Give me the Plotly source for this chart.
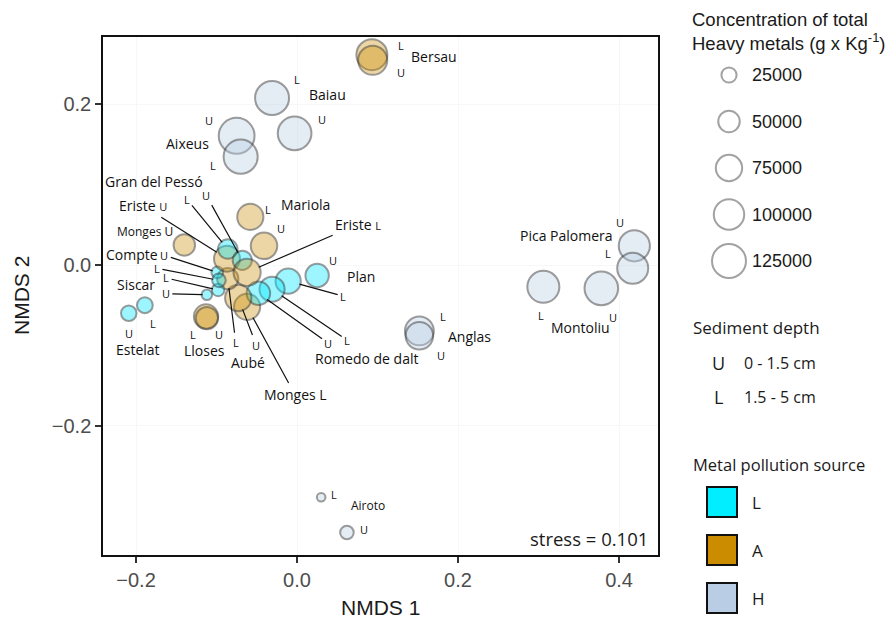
import math
import plotly.graph_objects as go

# NMDS scores of lake sediment samples
site = ["Bersau", "Bersau", "Baiau", "Baiau", "Aixeus", "Aixeus",
        "Mariola", "Mariola", "Monges", "Monges", "Estelat", "Estelat",
        "Lloses", "Lloses", "Plan", "Plan", "Romedo de dalt", "Romedo de dalt",
        "Aubé", "Aubé", "Siscar", "Siscar", "Compte", "Compte",
        "Eriste", "Gran del Pessó", "Gran del Pessó", "Eriste",
        "Anglas", "Anglas", "Pica Palomera", "Pica Palomera",
        "Montoliu", "Montoliu", "Airoto", "Airoto"]
depth = ["L", "U", "L", "U", "U", "L",
         "L", "U", "U", "L", "U", "L",
         "L", "U", "U", "L", "L", "U",
         "U", "L", "U", "L", "U", "L",
         "U", "L", "U", "L",
         "L", "U", "U", "L",
         "L", "U", "L", "U"]
source = ["A", "A", "H", "H", "H", "H",
          "A", "A", "A", "A", "L", "L",
          "A", "A", "L", "L", "L", "L",
          "A", "A", "L", "L", "L", "L",
          "A", "L", "L", "A",
          "H", "H", "H", "H",
          "H", "H", "H", "H"]
nmds1 = [0.093, 0.094, -0.031, -0.003, -0.075, -0.070,
         -0.058, -0.041, -0.140, -0.062, -0.209, -0.189,
         -0.113, -0.112, 0.025, -0.011, -0.031, -0.048,
         -0.073, -0.086, -0.112, -0.098, -0.099, -0.097,
         -0.087, -0.086, -0.068, -0.062,
         0.152, 0.152, 0.419, 0.417,
         0.306, 0.378, 0.030, 0.062]
nmds2 = [0.262, 0.255, 0.208, 0.164, 0.161, 0.135,
         0.060, 0.024, 0.025, -0.052, -0.060, -0.050,
         -0.064, -0.066, -0.013, -0.020, -0.030, -0.035,
         -0.041, -0.017, -0.037, -0.031, -0.009, -0.019,
         0.008, 0.020, 0.006, -0.009,
         -0.082, -0.088, 0.024, -0.004,
         -0.027, -0.029, -0.289, -0.333]
# total heavy metal concentration (g x Kg-1)
conc = [104000, 92000, 125000, 123000, 139000, 126000,
        74000, 76000, 50000, 74000, 26000, 27000,
        64000, 54000, 59000, 69000, 68000, 60000,
        75000, 49000, 12000, 17000, 15000, 20000,
        73000, 41000, 40000, 80000,
        90000, 82000, 105000, 104000,
        111000, 122000, 8000, 20000]

size_breaks = [25000, 50000, 75000, 100000, 125000]
source_levels = ["L", "A", "H"]
depth_levels = [("U", "0 - 1.5 cm"), ("L", "1.5 - 5 cm")]
stress = 0.101

# ---------------------------------------------------------------- styling
W, H = 888, 628
PL, PR, PT, PB = 103, 658, 37, 555          # panel box in pixels
XR = [-0.241, 0.4484]
YR = [-0.361, 0.284]
SIZEREF = 2 * 125000 / 34 ** 2
FILL = {"L": "rgba(0,232,255,0.55)", "A": "rgba(204,140,0,0.5)",
        "H": "rgba(185,205,228,0.55)"}
SOLID = {"L": "#00EEFF", "A": "#CC8C00", "H": "#B9CDE5"}
LABEL_FONT = "Open Sans"
AXIS_FONT = "Liberation Sans, Arial"


def radius_px(v):
    return math.sqrt(2 * v / SIZEREF) / 2


fig = go.Figure()

fig.add_trace(go.Scatter(
    x=nmds1, y=nmds2, mode="markers", hoverinfo="text",
    text=[f"{s} {d}" for s, d in zip(site, depth)],
    marker=dict(size=conc, sizemode="area", sizeref=SIZEREF,
                color=[FILL[s] for s in source],
                line=dict(color="rgba(50,50,50,0.68)", width=2)),
    showlegend=False, xaxis="x", yaxis="y"))

# ------------------------------------------------ point labels
index = {(s, d): i for i, (s, d) in enumerate(zip(site, depth))}

# depth letters: (site, depth, dx, dy, leader line)
depth_tags = [
    ("Bersau", "L", 29, -9, False), ("Bersau", "U", 28, 12, False),
    ("Baiau", "L", 25, -19, False), ("Baiau", "U", 27, -14, False),
    ("Aixeus", "U", -28, -15, False), ("Aixeus", "L", -28, 9, False),
    ("Mariola", "L", 18, -7, False), ("Mariola", "U", 17, -17, False),
    ("Gran del Pessó", "L", -41, -50, True), ("Gran del Pessó", "U", -36, -65, True),
    ("Compte", "U", -53, -17, True), ("Compte", "L", -62, -12, True),
    ("Siscar", "L", -52, -12, True), ("Siscar", "U", -41, -1, True),
    ("Plan", "U", 16, -15, False), ("Plan", "L", 55, 15, True),
    ("Estelat", "U", 0, 20, False), ("Estelat", "L", 8, 18, False),
    ("Lloses", "L", -13, 18, False), ("Lloses", "U", 12, 16, False),
    ("Aubé", "L", 8, 64, True), ("Aubé", "U", 18, 47, True),
    ("Romedo de dalt", "U", 70, 50, True), ("Romedo de dalt", "L", 75, 51, True),
    ("Anglas", "L", 24, -14, False), ("Anglas", "U", 22, 20, False),
    ("Pica Palomera", "U", -14, -23, False), ("Pica Palomera", "L", -25, -15, False),
    ("Montoliu", "L", -2, 29, False), ("Montoliu", "U", 12, 29, False),
    ("Airoto", "L", 13, -3, False), ("Airoto", "U", 17, -3, False),
]

small = "<span style='font-size:11px'>{}</span>"
# site names: (site, anchor depth, text, dx, dy, font size, leader line)
site_tags = [
    ("Bersau", "L", "Bersau", 62, 2, 14, False),
    ("Baiau", "L", "Baiau", 55, -4, 14, False),
    ("Aixeus", "U", "Aixeus", -49, 8, 14, False),
    ("Gran del Pessó", "L", "Gran del Pessó", -74, -68, 14, False),
    ("Mariola", "L", "Mariola", 55, -12, 14, False),
    ("Eriste", "U", "Eriste " + small.format("U"), -84, -53, 14, True),
    ("Eriste", "L", "Eriste " + small.format("L"), 111, -48, 14, True),
    ("Monges", "U", "Monges U", -39, -14, 12, False),
    ("Compte", "U", "Compte", -85, -18, 14, False),
    ("Siscar", "L", "Siscar", -82, -5, 14, False),
    ("Plan", "U", "Plan", 44, 1, 14, False),
    ("Estelat", "U", "Estelat", 9, 36, 14, False),
    ("Lloses", "L", "Lloses", -2, 34, 14, False),
    ("Aubé", "U", "Aubé", 10, 64, 14, False),
    ("Monges", "L", "Monges L", 48, 88, 14, True),
    ("Romedo de dalt", "L", "Romedo de dalt", 94, 69, 14, False),
    ("Anglas", "L", "Anglas", 50, 6, 14, False),
    ("Pica Palomera", "U", "Pica Palomera", -68, -10, 14, False),
    ("Montoliu", "L", "Montoliu", 37, 41, 14, False),
    ("Airoto", "L", "Airoto", 47, 8, 12, False),
]

annotations = []


def tag(i, text, dx, dy, size, leader):
    base = dict(x=nmds1[i], y=nmds2[i], xref="x", yref="y", text=text,
                font=dict(family=LABEL_FONT, size=size, color="#111111"))
    if leader:
        base.update(showarrow=True, arrowhead=0, arrowwidth=1.2,
                    arrowcolor="#111111", ax=dx, ay=dy,
                    standoff=radius_px(conc[i]) - 1, startstandoff=1)
    else:
        base.update(showarrow=False, xshift=dx, yshift=-dy)
    annotations.append(base)


for s, d, dx, dy, leader in depth_tags:
    tag(index[(s, d)], d, dx, dy, 11, leader)
for s, d, text, dx, dy, size, leader in site_tags:
    tag(index[(s, d)], text, dx, dy, size, leader)

# --------------------------------------------- figure-pixel frame (legend)
def px(x, y, text, size, anchor="left", family=AXIS_FONT, color="#1a1a1a", **kw):
    annotations.append(dict(x=x, y=y, xref="x2", yref="y2", text=text,
                            showarrow=False, xanchor=anchor, yanchor="middle",
                            align=anchor if anchor != "center" else "center",
                            font=dict(family=family, size=size, color=color), **kw))


px(PR - 8, PB - 17, f"stress = {stress}", 18.5, anchor="right", family=LABEL_FONT)
px((PL + PR) / 2, 607, "NMDS 1", 21, anchor="center")
px(21, (PT + PB) / 2, "NMDS 2", 21, anchor="center", textangle=-90)

px(690, 31, "Concentration of total<br>Heavy metals (g x Kg<sup>-1</sup>)", 18.5)
leg_y = [75 + 46.5 * k for k in range(len(size_breaks))]
fig.add_trace(go.Scatter(
    x=[729] * len(size_breaks), y=leg_y, mode="markers", hoverinfo="skip",
    marker=dict(size=size_breaks, sizemode="area", sizeref=SIZEREF,
                color="rgba(255,255,255,0)",
                line=dict(color="rgba(110,110,110,0.9)", width=2)),
    showlegend=False, xaxis="x2", yaxis="y2"))
for v, y in zip(size_breaks, leg_y):
    px(750, y, str(v), 18)

px(691, 327, "Sediment depth", 17, family=LABEL_FONT)
for k, (d, rng) in enumerate(depth_levels):
    y = 363 + 34 * k
    px(718, y, d, 18, anchor="center", family=LABEL_FONT)
    px(742, y, rng, 16, family=LABEL_FONT)

px(691, 464, "Metal pollution source", 16.5, family=LABEL_FONT)
shapes = []
for k, s in enumerate(source_levels):
    yc = 502 + 48 * k
    shapes.append(dict(type="rect", xref="x2", yref="y2", x0=707, x1=737,
                       y0=yc - 15, y1=yc + 15, fillcolor=SOLID[s],
                       line=dict(color="#111111", width=2)))
    px(750, yc, s, 17, family=LABEL_FONT)

axis_font = dict(family=AXIS_FONT, size=20, color="#4D4D4D")
fig.update_layout(
    width=W, height=H, margin=dict(l=0, r=0, t=0, b=0),
    paper_bgcolor="white", plot_bgcolor="rgba(0,0,0,0)",
    xaxis=dict(domain=[PL / W, PR / W], range=XR, tickvals=[-0.2, 0, 0.2, 0.4],
               tickformat=".1f", ticks="outside", ticklen=6, tickwidth=2,
               tickcolor="#333333", showline=True, linecolor="#111111",
               linewidth=1.5, mirror=True, showgrid=True, gridcolor="#F7F7F7",
               zeroline=False, tickfont=axis_font, anchor="y"),
    yaxis=dict(domain=[1 - PB / H, 1 - PT / H], range=YR,
               tickvals=[-0.2, 0, 0.2], tickformat=".1f", ticks="outside",
               ticklen=6, tickwidth=2, tickcolor="#333333", showline=True,
               linecolor="#111111", linewidth=1.5, mirror=True, showgrid=True,
               gridcolor="#F7F7F7", zeroline=False, tickfont=axis_font,
               anchor="x"),
    xaxis2=dict(domain=[0, 1], range=[0, W], visible=False, anchor="y2",
                fixedrange=True),
    yaxis2=dict(domain=[0, 1], range=[H, 0], visible=False, anchor="x2",
                fixedrange=True),
    annotations=annotations, shapes=shapes,
)

fig.write_html("out.html")
